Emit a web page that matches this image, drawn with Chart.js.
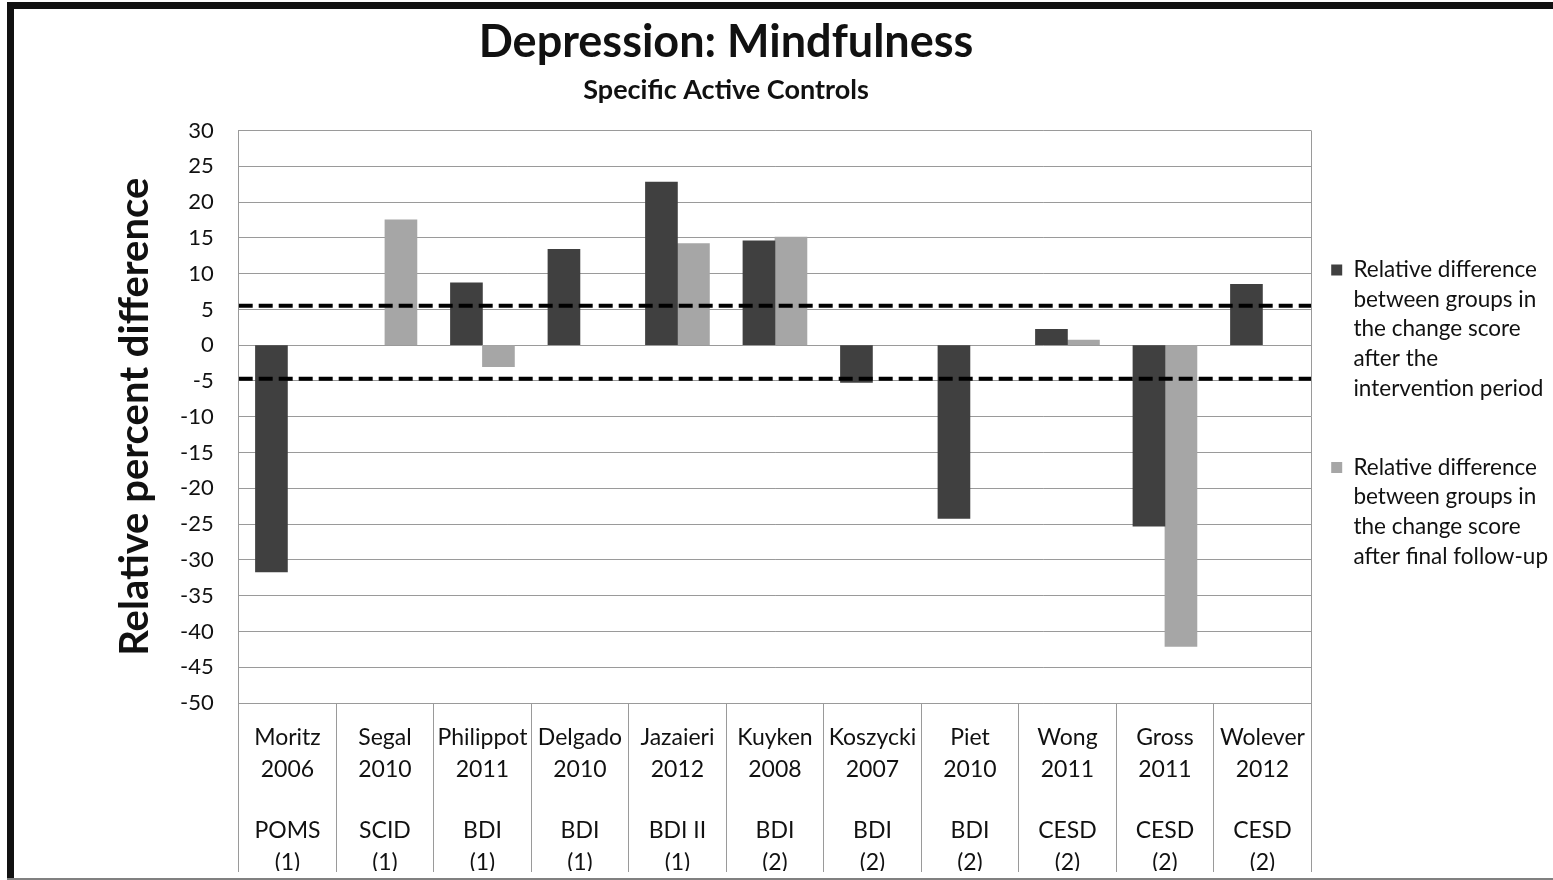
<!DOCTYPE html>
<html><head><meta charset="utf-8">
<script src="https://cdn.jsdelivr.net/npm/chart.js@4.4.1/dist/chart.umd.min.js"></script>
<style>
html,body{margin:0;padding:0;background:#fff;overflow:hidden;width:1553px;height:880px;}
#wrap{position:absolute;left:-106px;top:0;width:1669px;height:880px;}
.f{position:absolute;background:#111;}
</style></head><body>
<div id="wrap"><canvas id="c" width="1669" height="880" style="width:1669px;height:880px"></canvas></div>
<div class="f" style="left:7px;top:2px;width:1546px;height:7px"></div>
<div class="f" style="left:7px;top:2px;width:7px;height:878px"></div>
<div style="position:absolute;left:7px;top:878px;width:1546px;height:2px;background:#808080"></div>
<script>
const studies = [["Moritz","2006"],["Segal","2010"],["Philippot","2011"],["Delgado","2010"],["Jazaieri","2012"],["Kuyken","2008"],["Koszycki","2007"],["Piet","2010"],["Wong","2011"],["Gross","2011"],["Wolever","2012"]];
const measures = [["POMS","(1)"],["SCID","(1)"],["BDI","(1)"],["BDI","(1)"],["BDI II","(1)"],["BDI","(2)"],["BDI","(2)"],["BDI","(2)"],["CESD","(2)"],["CESD","(2)"],["CESD","(2)"]];
const afterIntervention = [-31.7, null, 8.7, 13.4, 22.8, 14.6, -5.2, -24.2, 2.2, -25.3, 8.5];
const afterFollowUp = [null, 17.5, -3.0, null, 14.2, 15.1, null, null, 0.7, -42.1, null];
const thresholdUpper = 5.5;
const thresholdLower = -4.7;
const yMin = -50, yMax = 30, yStep = 5;
const seriesLabels = [
  ["Relative difference","between groups in","the change score","after the","intervention period",""],
  ["Relative difference","between groups in","the change score","after final follow-up"]
];
const titleText = "Depression: Mindfulness";
const subtitleText = "Specific Active Controls";
const yTitle = "Relative percent difference";

const FONT = "Lato, 'Open Sans', sans-serif";
const GRID = "#9a9a9a";
const TXT = "#111";
const CLEAR = "rgba(0,0,0,0)";

new Chart(document.getElementById('c'), {
  type: 'bar',
  data: {
    labels: studies,
    datasets: [
      {type:'line', label:'upper', data:[{x:0,y:thresholdUpper},{x:1,y:thresholdUpper}], xAxisID:'xl', yAxisID:'y',
       borderColor:'#000', borderWidth:4, borderDash:[14,6], pointRadius:0, order:-1},
      {type:'line', label:'lower', data:[{x:0,y:thresholdLower},{x:1,y:thresholdLower}], xAxisID:'xl', yAxisID:'y',
       borderColor:'#000', borderWidth:4, borderDash:[14,6], pointRadius:0, order:-1},
      {type:'bar', label:seriesLabels[0], data:afterIntervention, backgroundColor:'#404040', borderWidth:0,
       xAxisID:'x', yAxisID:'y', barThickness:32},
      {type:'bar', label:seriesLabels[1], data:afterFollowUp, backgroundColor:'#a6a6a6', borderWidth:0,
       xAxisID:'x', yAxisID:'y', barThickness:32}
    ]
  },
  options: {
    responsive:false, animation:false,
    layout:{padding:{left:0, right:5, top:0, bottom:9}},
    plugins:{
      title:{display:true, text:titleText, color:TXT, font:{family:FONT, size:45, weight:'bold'}, padding:{top:15,bottom:0}},
      subtitle:{display:true, text:subtitleText, color:TXT, font:{family:FONT, size:27, weight:'bold'}, padding:{top:4.8,bottom:24.3}},
      legend:{display:true, position:'right', align:'center', fullSize:false,
        labels:{color:TXT, font:{family:FONT, size:22.5, lineHeight:'29.6px'}, boxWidth:11, boxHeight:11, padding:20,
          filter:(item)=> item.datasetIndex >= 2}},
      tooltip:{enabled:false}
    },
    scales:{
      x:{type:'category', position:'bottom', weight:0, offset:true,
         grid:{display:true, drawOnChartArea:true, drawTicks:true, tickLength:169, offset:true,
               color:(c)=> (c.type === 'scale' || c.index === 0) ? GRID : CLEAR, tickColor:GRID},
         border:{display:true, color:GRID},
         ticks:{color:TXT, font:{family:FONT, size:23, lineHeight:'32px'}, padding:-150, autoSkip:false, maxRotation:0, minRotation:0},
         afterFit:(s)=>{ s.height = 83; }},
      x2:{type:'category', position:'bottom', weight:1, offset:true, labels:measures,
         grid:{display:false}, border:{display:false},
         ticks:{color:TXT, font:{family:FONT, size:23, lineHeight:'32px'}, padding:21, autoSkip:false, maxRotation:0, minRotation:0},
         afterFit:(s)=>{ s.height = 85; }},
      xl:{type:'linear', display:false, min:0, max:1, offset:false},
      y:{type:'linear', position:'left', min:yMin, max:yMax,
         ticks:{stepSize:yStep, color:TXT, font:{family:FONT, size:22}, padding:25},
         grid:{color:GRID, drawTicks:false, lineWidth:1},
         border:{display:true, color:GRID},
         title:{display:true, text:yTitle, color:TXT, font:{family:FONT, size:40, weight:'bold', lineHeight:1}, padding:{top:221,bottom:0}}}
    }
  }
});
</script>
</body></html>
